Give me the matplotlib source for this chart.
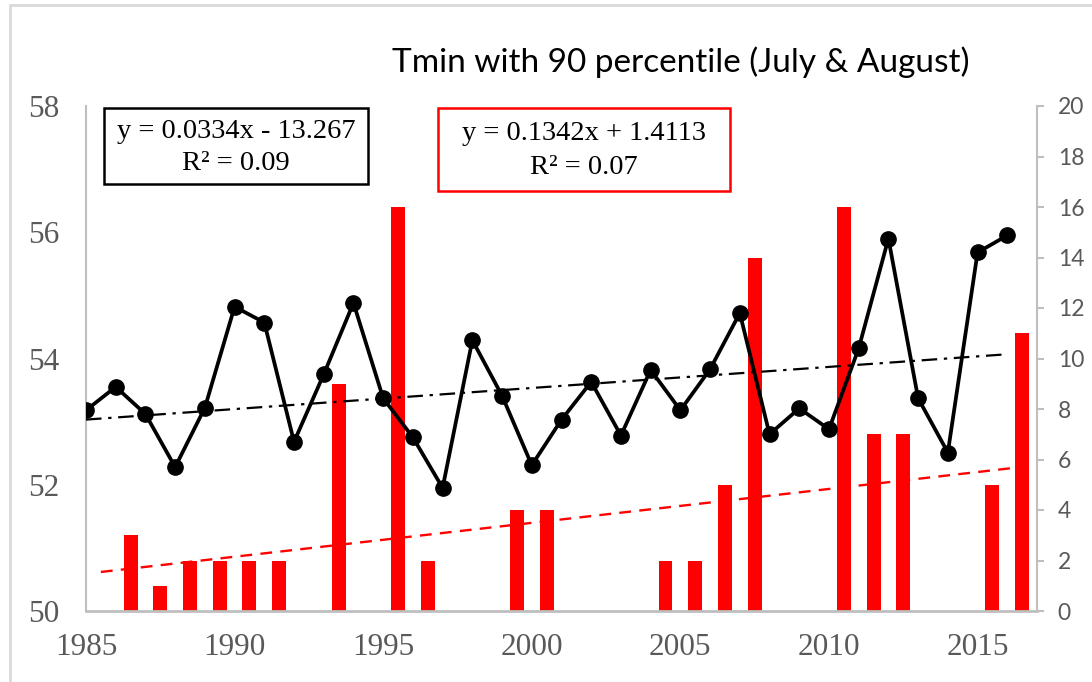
import matplotlib
matplotlib.use("Agg")
import matplotlib.pyplot as plt
from matplotlib.patches import Rectangle

# Yearly Tmin (90th percentile, July & August)
years = list(range(1985, 2017))
tmin = [53.18, 53.55, 53.12, 52.28, 53.22, 54.82, 54.57, 52.68, 53.75, 54.88,
        53.37, 52.75, 51.95, 54.29, 53.41, 52.31, 53.03, 53.63, 52.78, 53.82,
        53.18, 53.83, 54.72, 52.80, 53.21, 52.88, 54.16, 55.90, 53.37, 52.51,
        55.68, 55.95]

# Count of days (bar series), index 1..32
count_idx = list(range(1, 33))
counts = [0, 3, 1, 2, 2, 2, 2, 0, 9, 0,
          16, 2, 0, 0, 4, 4, 0, 0, 0, 2,
          2, 5, 14, 0, 0, 16, 7, 7, 0, 0,
          5, 11]

# Linear trends
tmin_slope, tmin_icpt, tmin_r2 = 0.0334, -13.267, 0.09
cnt_slope, cnt_icpt, cnt_r2 = 0.1342, 1.4113, 0.07

title = "Tmin with 90 percentile (July & August)"
left_ticks = [50, 52, 54, 56, 58]
right_ticks = list(range(0, 21, 2))
x_ticks = [1985, 1990, 1995, 2000, 2005, 2010, 2015]

W, H = 1092, 682
fig = plt.figure(figsize=(W / 100, H / 100), dpi=100)
fig.patch.set_facecolor("white")

def fx(px):
    return px / W

def fy(py):
    return 1 - py / H

ax = fig.add_axes([fx(86), fy(611), fx(1037) - fx(86), fy(106) - fy(611)])
ax2 = ax.twinx()
ax.set_zorder(ax2.get_zorder() + 1)
ax.patch.set_visible(False)

grey = "#595959"
spine_c = "#BFBFBF"

# Bars on the right axis, placed half a year after each tick
bar_x = [1984.5 + i for i in count_idx]
ax2.bar(bar_x, counts, width=0.47, color="#FF0000", zorder=2)
trend_cnt = [cnt_slope * i + cnt_icpt for i in count_idx]
ax2.plot(bar_x, trend_cnt, color="#FF0000", lw=1.7, ls=(0, (5, 3.5)), zorder=3)

# Tmin line and its trend on the left axis
trend_t = [tmin_slope * y + tmin_icpt for y in years]
ax.plot(years, trend_t, color="black", lw=1.6, ls=(0, (7, 3, 1.5, 3)), zorder=3)
ax.plot(years, tmin, color="black", lw=2.7, marker="o", ms=11, zorder=4)

ax.set_xlim(1985, 2017)
ax.set_ylim(50, 58)
ax2.set_ylim(0, 20)

ax.set_yticks(left_ticks)
ax.set_xticks(x_ticks)
ax2.set_yticks(right_ticks)

for s in ["top", "right"]:
    ax.spines[s].set_visible(False)
for s in ["top", "left", "bottom"]:
    ax2.spines[s].set_visible(False)
ax.spines["left"].set_color(spine_c)
ax.spines["bottom"].set_color(spine_c)
ax.spines["left"].set_linewidth(1.5)
ax.spines["bottom"].set_linewidth(2.0)
ax2.spines["right"].set_color(spine_c)
ax2.spines["right"].set_linewidth(1.5)

ax.tick_params(axis="y", length=0, pad=19, labelsize=22.5, labelcolor=grey)
ax.tick_params(axis="x", length=0, pad=16, labelsize=22.5, labelcolor=grey)
for lab in ax.get_xticklabels() + ax.get_yticklabels():
    lab.set_fontfamily("Liberation Serif")
ax2.tick_params(axis="y", length=5, width=1.5, color=spine_c, pad=10,
                labelsize=16.5, labelcolor=grey)
for lab in ax2.get_yticklabels():
    lab.set_fontfamily("Lato")

# Title
fig.text(fx(681), fy(62), title, ha="center", va="center", fontsize=24,
         family="Lato", color="black")

# Equation boxes
def eq_box(x0, y0, x1, y1, color, line1, line2, y_l1, y_l2):
    fig.add_artist(Rectangle((fx(x0), fy(y1)), fx(x1) - fx(x0), fy(y0) - fy(y1),
                             transform=fig.transFigure, fill=False,
                             edgecolor=color, lw=1.8, zorder=10))
    cx = fx((x0 + x1) / 2)
    fig.text(cx, fy(y_l1), line1, ha="center", va="center", fontsize=20.5,
             family="Liberation Serif", color="black", zorder=11)
    fig.text(cx, fy(y_l2), line2, ha="center", va="center", fontsize=20.5,
             family="Liberation Serif", color="black", zorder=11)

eq_box(104, 108, 368, 184, "black",
       f"y = {tmin_slope}x - {abs(tmin_icpt)}", f"R\u00b2 = {tmin_r2:.2f}", 131, 164)
eq_box(438, 108, 730, 191, "#FF0000",
       f"y = {cnt_slope}x + {cnt_icpt}", f"R\u00b2 = {cnt_r2:.2f}", 134, 168)

# Chart frame
fig.add_artist(Rectangle((fx(10), fy(700)), fx(1100) - fx(10), fy(5) - fy(700),
                         transform=fig.transFigure, fill=False,
                         edgecolor="#D9D9D9", lw=2, zorder=0))

fig.savefig("out.png", dpi=100)
